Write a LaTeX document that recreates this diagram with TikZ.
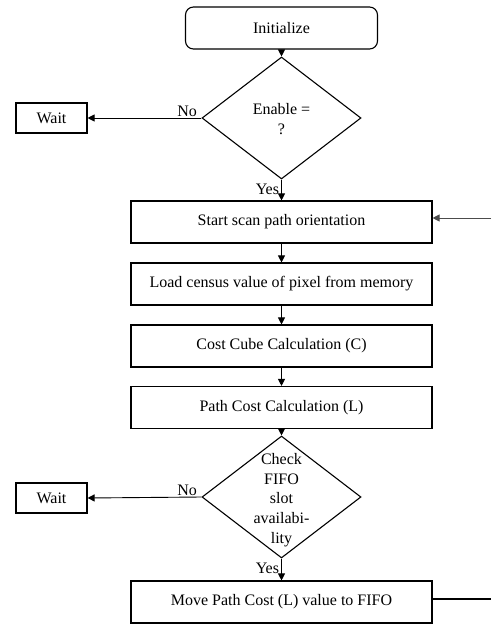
\documentclass[tikz,border=0pt]{standalone}
\usepackage{fontspec}
\setmainfont{Liberation Serif}
\usetikzlibrary{shapes.geometric,arrows.meta}
\begin{document}
\begin{tikzpicture}[x=1pt,y=-1pt,
  font=\fontsize{16}{19.6}\selectfont,
  box/.style={draw,line width=1.1pt,minimum width=301pt,minimum height=42pt,inner sep=0pt},
  startbox/.style={draw,line width=1.1pt,rounded corners=8pt,minimum width=192pt,minimum height=42pt,inner sep=0pt},
  waitbox/.style={draw,line width=1.1pt,minimum width=71pt,minimum height=30pt,inner sep=0pt},
  dia/.style={draw,line width=1.1pt,shape=diamond,minimum width=159pt,minimum height=122pt,inner sep=0pt},
  arr/.style={line width=0.9pt,-{Triangle[length=7pt,width=7pt]}},
  lbl/.style={inner sep=0pt}
]
\useasboundingbox (0,0) rectangle (491,627);

\node[startbox] (init) at (281.5,28) {Initialize};
\node[dia] (d1) at (281.5,118) {};
\node[lbl,align=center] at (281.5,119) {Enable =\\?};
\node[waitbox] (w1) at (51.5,118) {Wait};

\node[box] (b1) at (281.5,222) {Start scan path orientation};
\node[box] (b2) at (281.5,284) {Load census value of pixel from memory};
\node[box] (b3) at (281.5,346) {Cost Cube Calculation (C)};
\node[box] (b4) at (281.5,407.5) {Path Cost Calculation (L)};
\node[dia] (d2) at (281.5,497) {};
\node[lbl,align=center] at (281.5,500) {Check\\FIFO\\slot\\availabi-\\lity};
\node[waitbox] (w2) at (51.5,498) {Wait};
\node[box] (b5) at (281.5,602) {Move Path Cost (L) value to FIFO};

\coordinate (inR) at (491,218);
\coordinate (outR) at (491,599);

\draw[arr] (init) -- (d1.north);
\draw[arr] (d1.west) -- (w1.east) node[pos=0,lbl,anchor=south east,xshift=-4pt,yshift=1pt] {No};
\draw[arr] (d1.south) -- (b1.north) node[pos=0,lbl,anchor=north east,xshift=-2pt,yshift=-4pt] {Yes};
\draw[arr,draw=black!70] (inR) -- (inR -| b1.east);
\draw[arr] (b1) -- (b2);
\draw[arr] (b2) -- (b3);
\draw[arr] (b3) -- (b4);
\draw[arr] (b4.south) -- (d2.north);
\draw[arr] (d2.west) -- (w2.east) node[pos=0,lbl,anchor=south east,xshift=-4pt,yshift=1pt] {No};
\draw[arr] (d2.south) -- (b5.north) node[pos=0,lbl,anchor=north east,xshift=-2pt,yshift=-4pt] {Yes};
\draw[line width=1.8pt] (outR -| b5.east) -- (outR);
\end{tikzpicture}
\end{document}
